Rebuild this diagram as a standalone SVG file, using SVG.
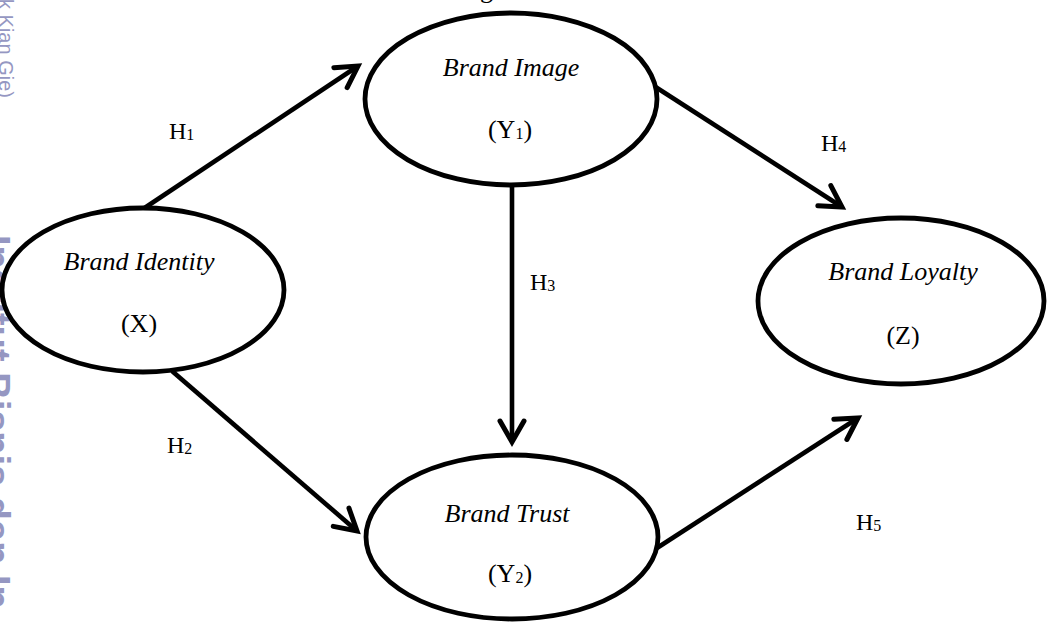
<svg xmlns="http://www.w3.org/2000/svg" width="1047" height="622" viewBox="0 0 1047 622">
  <style>
    .node { fill: #ffffff; stroke: #000000; stroke-width: 4.8; }
    .name { font-family: "Liberation Serif", "Times New Roman", serif; font-style: italic; font-size: 26px; fill: #000; text-anchor: middle; }
    .var { font-family: "Liberation Serif", "Times New Roman", serif; font-size: 26px; fill: #000; text-anchor: middle; }
    .hyp { font-family: "Liberation Serif", "Times New Roman", serif; font-size: 24px; fill: #000; }
    .sub { font-size: 16px; }
    .edge { stroke: #000; stroke-width: 4.6; fill: none; marker-end: url(#arr); }
    .wm { font-family: "Liberation Sans", Arial, sans-serif; fill: #9597c2; }
  </style>
  <defs>
    <marker id="arr" markerUnits="userSpaceOnUse" viewBox="-30 -20 40 40" markerWidth="40" markerHeight="40" refX="0" refY="0" orient="auto">
      <path d="M-21,-12 L0,0 L-21,12" fill="none" stroke="#000" stroke-width="5" stroke-linecap="round" stroke-linejoin="miter"/>
    </marker>
  </defs>
  <rect width="1047" height="622" fill="#ffffff"/>

  <!-- margin watermark, running down the left edge -->
  <g id="watermark">
    <text class="wm" font-size="20" transform="translate(-1,-1) rotate(90)">k Kian Gie)</text>
    <text class="wm" font-size="38" font-weight="bold" transform="translate(-17,235) rotate(90)">Institut Bisnis dan In</text>
  </g>

  <!-- caption descender above the figure -->
  <text x="480" y="-2" font-family="Liberation Serif, serif" font-size="26" fill="#000">g</text>

  <g id="connectors">
    <line class="edge" x1="143" y1="209" x2="358" y2="66"/>
    <line class="edge" x1="172" y1="371" x2="357" y2="531"/>
    <line class="edge" x1="512" y1="185" x2="512" y2="442"/>
    <line class="edge" x1="654" y1="86" x2="842" y2="207"/>
    <line class="edge" x1="657" y1="548" x2="858" y2="418"/>
  </g>

  <g id="node-x">
    <ellipse class="node" cx="143" cy="290" rx="141" ry="82"/>
    <text class="name" x="139" y="270">Brand Identity</text>
    <text class="var" x="139" y="332">(X)</text>
  </g>
  <g id="node-y1">
    <ellipse class="node" cx="511" cy="99" rx="146" ry="86"/>
    <text class="name" x="511" y="76">Brand Image</text>
    <text class="var" x="510" y="138">(Y<tspan class="sub" dy="1">1</tspan><tspan dy="-1">)</tspan></text>
  </g>
  <g id="node-y2">
    <ellipse class="node" cx="512" cy="537" rx="146" ry="82"/>
    <text class="name" x="507" y="522">Brand Trust</text>
    <text class="var" x="510" y="582">(Y<tspan class="sub" dy="1">2</tspan><tspan dy="-1">)</tspan></text>
  </g>
  <g id="node-z">
    <ellipse class="node" cx="901" cy="301" rx="143" ry="83"/>
    <text class="name" x="903" y="280">Brand Loyalty</text>
    <text class="var" x="903" y="344">(Z)</text>
  </g>

  <g id="labels">
    <text class="hyp" x="169" y="139">H<tspan class="sub" dy="1">1</tspan></text>
    <text class="hyp" x="167" y="453">H<tspan class="sub" dy="1">2</tspan></text>
    <text class="hyp" x="530" y="290">H<tspan class="sub" dy="1">3</tspan></text>
    <text class="hyp" x="821" y="151">H<tspan class="sub" dy="1">4</tspan></text>
    <text class="hyp" x="856" y="530">H<tspan class="sub" dy="1">5</tspan></text>
  </g>
</svg>
